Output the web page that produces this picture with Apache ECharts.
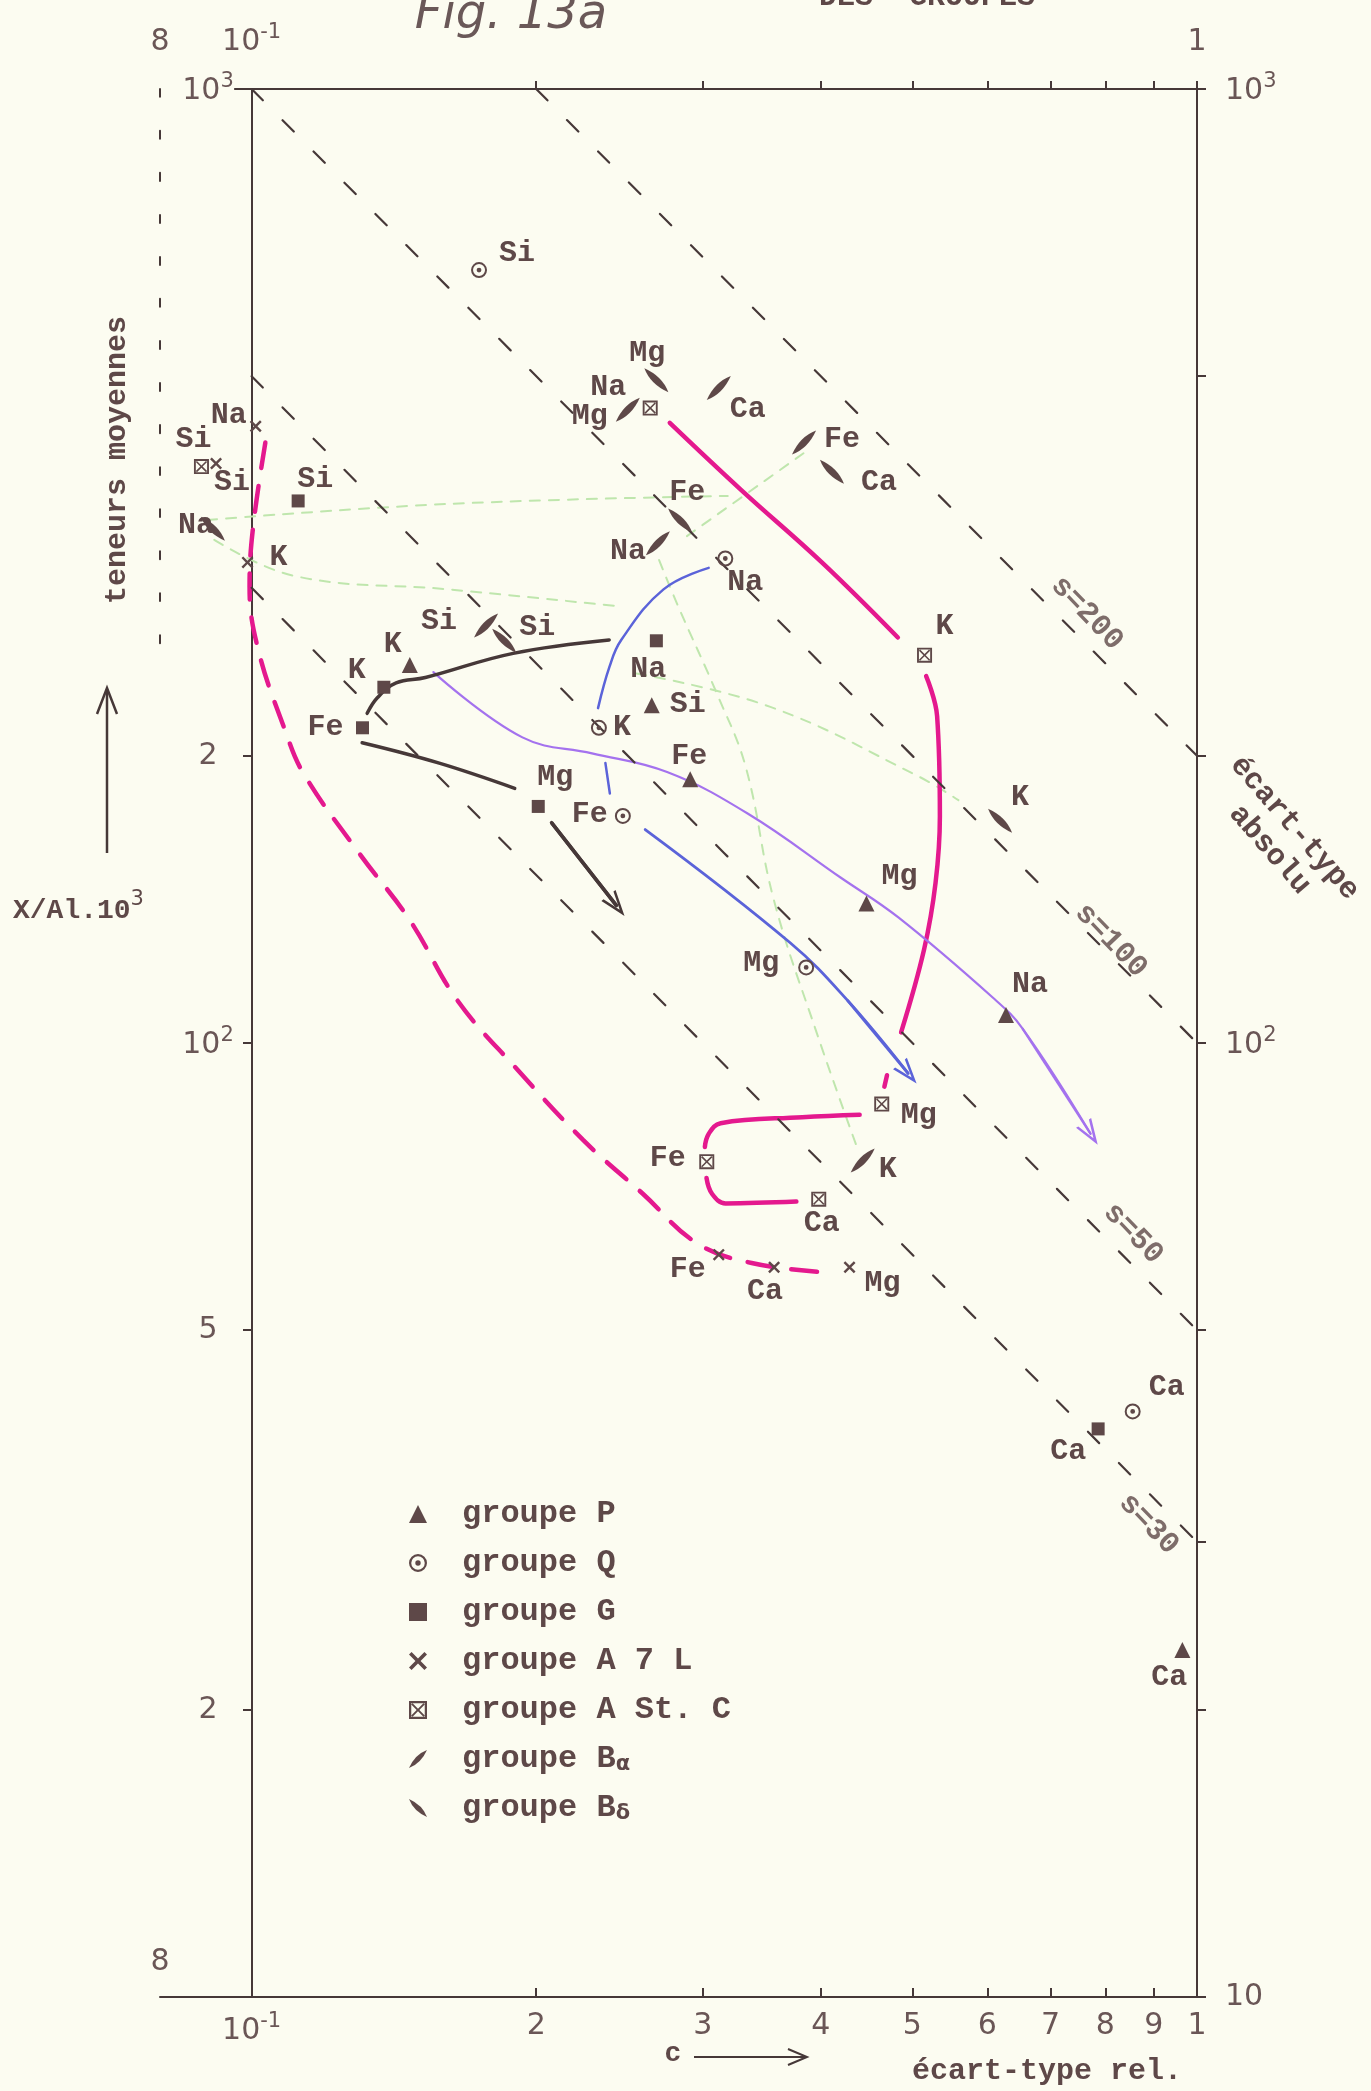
<!DOCTYPE html>
<html>
<head>
<meta charset="utf-8">
<title>Fig. 13a</title>
<script src="https://cdn.jsdelivr.net/npm/echarts@6/dist/echarts.min.js"></script>
<style>
    html, body { margin: 0; padding: 0; background: #fcfcf1; }
    #chart1 { width: 1371px; height: 2091px; }
</style>
</head>
<body>
<div id="chart1"></div>
<script>
// elements, same order in every group
var elements = ['Si', 'Na', 'K', 'Fe', 'Mg', 'Ca'];
var groups = ['P', 'Q', 'G', 'A 7 L', 'A St. C', 'Bα', 'Bδ'];

// écart-type relatif (x) and teneur moyenne X/Al.10^3 (y), in the order of elements
var relP = [0.265, 0.628, 0.147, 0.291, 0.447, 0.965];
var meanP = [226, 107, 249, 189, 140, 23.1];
var relQ = [0.174, 0.317, 0.233, 0.247, 0.386, 0.855];
var meanQ = [646, 322, 214, 173, 120, 41.1];
var relG = [0.112, 0.268, 0.138, 0.131, 0.201, 0.786];
var meanG = [370, 264, 236, 214, 177, 39.4];
var relA7L = [0.0917, 0.101, 0.099, 0.312, 0.429, 0.357];
var meanA7L = [405, 443, 319, 60.0, 58.2, 58.2];
var relASC = [0.0885, 0.264, 0.515, 0.303, 0.464, 0.398];
var meanASC = [402, 463, 255, 75.1, 86.3, 68.6];
var relBa = [0.177, 0.269, 0.443, 0.384, 0.250, 0.312];
var meanBa = [274, 334, 75.3, 426, 461, 486];
var relBd = [0.185, 0.091, 0.619, 0.284, 0.268, 0.411];
var meanBd = [264, 346, 171, 353, 495, 397];

// hand drawn trend curves (x, y)
var ascLine1X = [0.2769, 0.3298, 0.4013, 0.4826];
var ascLine1Y = [446.7, 379.6, 318.8, 266.1];
var ascLine2X = [0.517, 0.531, 0.5346, 0.529, 0.5144, 0.4864];
var ascLine2Y = [242.4, 220.1, 172.9, 147.2, 125.3, 102.6];
var ascLine3X = [0.470, 0.467];
var ascLine3Y = [92.5, 90.0];
var ascUpX = [0.4397, 0.3823, 0.3134, 0.3044, 0.3016];
var ascUpY = [84.1, 83.6, 82.4, 80.3, 77.8];
var ascLowX = [0.3028, 0.3069, 0.3172, 0.3769];
var ascLowY = [72.2, 69.5, 67.9, 68.2];
var a7lLineX = [0.1034, 0.1003, 0.0995, 0.1016, 0.1084, 0.1135, 0.130, 0.147, 0.165, 0.191, 0.2243, 0.2593, 0.2957, 0.338, 0.403];
var a7lLineY = [426, 345.6, 300.8, 258.6, 213.2, 191.6, 158, 134.5, 110.9, 93.8, 79.1, 69.5, 61.7, 58.8, 57.5];
var qUpX = [0.2325, 0.2391, 0.246, 0.2727, 0.3044];
var qUpY = [224.4, 248, 264.5, 298.9, 314.8];
var qShortX = [0.2367, 0.2393];
var qShortY = [196.6, 182.6];
var qArrowX = [0.2608, 0.3715, 0.4267, 0.495];
var qArrowY = [167.4, 127.3, 110.9, 92.9];
var pLineX = [0.1557, 0.1934, 0.2291, 0.2751, 0.3347, 0.4197, 0.4832, 0.608, 0.6536, 0.7718];
var pLineY = [244.8, 209.1, 201.2, 192.3, 174, 149.1, 135.4, 111.6, 103.6, 80.3];
var gUpX = [0.1325, 0.1359, 0.1422, 0.1527, 0.1891, 0.2389];
var gUpY = [221.6, 230.2, 238.5, 241.6, 256.1, 264.5];
var gLowX = [0.1309, 0.1576, 0.1898];
var gLowY = [206.4, 196.6, 184.9];
var gArrowX = [0.2076, 0.2432];
var gArrowY = [170.2, 139.3];
var bLine1X = [0.0898, 0.1611, 0.3189];
var bLine1Y = [353.4, 367.3, 374.5];
var bLine2X = [0.0913, 0.111, 0.1615, 0.2466];
var bLine2Y = [336.8, 308.7, 298.9, 286.7];
var bLine3X = [0.3835, 0.285];
var bLine3Y = [415.1, 336.8];
var bLine4X = [0.2698, 0.2827, 0.3105, 0.3331, 0.3568, 0.3963, 0.4368];
var bLine4Y = [320.8, 286.7, 232.5, 194.8, 141.2, 102.3, 77.8];
var bLine5X = [0.2553, 0.3537, 0.507, 0.5593];
var bLine5Y = [244, 225.1, 190.4, 179.7];

// lines of constant écart-type absolu s
var sNames = ['s=200', 's=100', 's=50', 's=30'];
var sLineX = [[0.2, 1], [0.1, 1], [0.1, 1], [0.1, 1]];
var sLineY = [[1000, 200], [1000, 100], [500, 50], [300, 30]];
var sLabelX = [0.765, 0.811, 0.856, 0.889];
var sLabelY = [282, 128, 63.1, 31.3];

// axis ticks
var xTicks = [0.1, 0.2, 0.3, 0.4, 0.5, 0.6, 0.7, 0.8, 0.9, 1];
var xTopLabels = [0.08, 0.1, 1];
var yLeftTicks = [20, 50, 100, 200, 1000];
var yRightTicks = [10, 20, 30, 50, 100, 200, 500, 1000];
var yRightLabels = [10, 100, 1000];
var guideX = [0.08, 0.08];
var guideY = [1000, 255];
var topFrameX = [0.096, 1];
var topFrameY = [1000, 1000];

// label placement (pixels, label centre from the symbol)
var shiftP = [[36, -1], [24, -31], [-17, -21], [-1, -23], [33, -27], [-13, 27]];
var shiftQ = [[38, -17], [20, 24], [23, 0], [-33, -1], [-45, -4], [34, -24]];
var shiftG = [[17, -21], [-8, 29], [-27, -17], [-37, 0], [17, -29], [-30, 23]];
var shiftA7L = [[16, 19], [-27, -11], [31, -5], [-31, 15], [33, 16], [-9, 24]];
var shiftASC = [[-8, -27], [-42, -21], [20, -29], [-39, -3], [37, 11], [3, 24]];
var shiftBa = [[-47, -4], [-30, 8], [25, 9], [38, -3], [-38, 7], [29, 21]];
var shiftBd = [[33, -13], [-17, -3], [20, -23], [7, -28], [-9, -27], [47, 11]];

var ink = '#5e4848';
var lineInk = '#463838';
var numInk = '#6a5656';
var mono = 'Liberation Mono';
var chevron = 'path://M0,0 L-10,20 L-7,20 L0,6 L7,20 L10,20 Z';
var symRing = 'path://M0,-10 A10,10 0 1,1 0,10 A10,10 0 1,1 0,-10 Z M0,-7.5 A7.5,7.5 0 1,0 0,7.5 A7.5,7.5 0 1,0 0,-7.5 Z M0,-3 A3,3 0 1,1 0,3 A3,3 0 1,1 0,-3 Z';
var symCross = 'path://M-7,-5 L-5,-7 L0,-2 L5,-7 L7,-5 L2,0 L7,5 L5,7 L0,2 L-5,7 L-7,5 L-2,0 Z';
var symBoxX = 'path://M-10,-10 L10,-10 L10,10 L-10,10 Z M-7.5,-7.5 L-7.5,7.5 L7.5,7.5 L7.5,-7.5 Z M-7.5,-6 L-6,-7.5 L0,-1.5 L6,-7.5 L7.5,-6 L1.5,0 L7.5,6 L6,7.5 L0,1.5 L-6,7.5 L-7.5,6 L-1.5,0 Z';
var symLeafA = 'path://M-12,12 Q-4,-6 12,-12 Q4,6 -12,12 Z';
var symLeafD = 'path://M-12,-12 Q6,-4 12,12 Q-6,4 -12,-12 Z';

// rich styles for powers of ten
var numRich = {
    n: { fontFamily: 'DejaVu Sans', fontSize: 30, color: numInk, verticalAlign: 'bottom' },
    s: { fontFamily: 'DejaVu Sans', fontSize: 21, color: numInk, verticalAlign: 'top', padding: [0, 0, 14, 0] }
};

function pairs(xs, ys) {
    return xs.map(function (x, i) {
        return [x, ys[i]];
    });
}

function groupSeries(name, xs, ys, shifts, symbol, size) {
    var data = [];
    for (var i = 0; i < elements.length; i++) {
        data.push({
            name: elements[i],
            value: [xs[i], ys[i]],
            label: { offset: shifts[i] }
        });
    }
    return {
        name: name,
        type: 'scatter',
        symbol: symbol,
        symbolSize: size,
        z: 6,
        itemStyle: { color: ink, opacity: 1 },
        label: {
            show: true,
            position: 'inside',
            formatter: '{b}',
            fontFamily: mono,
            fontSize: 30,
            fontWeight: 'bold',
            color: ink,
            textBorderWidth: 0
        },
        data: data
    };
}

function curve(xs, ys, color, width, type, arrow) {
    var s = {
        type: 'line',
        data: pairs(xs, ys),
        smooth: 0.4,
        symbol: 'none',
        z: 3,
        silent: true,
        lineStyle: { color: color, width: width, type: type, cap: 'round' }
    };
    if (arrow) {
        var n = xs.length;
        s.markLine = {
            silent: true,
            symbol: ['none', chevron],
            symbolSize: [18, 26],
            label: { show: false },
            lineStyle: { color: color, width: width, type: 'solid' },
            data: [[{ coord: [xs[n - 2], ys[n - 2]] }, { coord: [xs[n - 1], ys[n - 1]] }]]
        };
    }
    return s;
}

function drawChart1() {
    var dom1 = document.getElementById('chart1');
    var myChart1 = echarts.init(dom1);
    var magenta = '#e4198e';
    var blue = '#5b63d9';
    var purple = '#a472ee';
    var green = '#bfe6ad';

    var series = [
        groupSeries('P', relP, meanP, shiftP, 'triangle', 16),
        groupSeries('Q', relQ, meanQ, shiftQ, symRing, 16),
        groupSeries('G', relG, meanG, shiftG, 'rect', 13),
        groupSeries('A 7 L', relA7L, meanA7L, shiftA7L, symCross, 12),
        groupSeries('A St. C', relASC, meanASC, shiftASC, symBoxX, 15),
        groupSeries('Bα', relBa, meanBa, shiftBa, symLeafA, 24),
        groupSeries('Bδ', relBd, meanBd, shiftBd, symLeafD, 24),

        curve(bLine1X, bLine1Y, green, 2, [10, 9]),
        curve(bLine2X, bLine2Y, green, 2, [10, 9]),
        curve(bLine3X, bLine3Y, green, 2, [10, 9]),
        curve(bLine4X, bLine4Y, green, 2, [10, 9]),
        curve(bLine5X, bLine5Y, green, 2, [10, 9]),

        curve(ascLine1X, ascLine1Y, magenta, 4.5, 'solid'),
        curve(ascLine2X, ascLine2Y, magenta, 4.5, 'solid'),
        curve(ascLine3X, ascLine3Y, magenta, 4.5, 'solid'),
        curve(ascUpX, ascUpY, magenta, 4.5, 'solid'),
        curve(ascLowX, ascLowY, magenta, 4.5, 'solid'),
        curve(a7lLineX, a7lLineY, magenta, 4.5, [26, 18]),
        curve(qUpX, qUpY, blue, 2.5, 'solid'),
        curve(qShortX, qShortY, blue, 2.5, 'solid'),
        curve(qArrowX, qArrowY, blue, 2.8, 'solid', true),
        curve(pLineX, pLineY, purple, 2.2, 'solid', true),
        curve(gUpX, gUpY, lineInk, 3.5, 'solid'),
        curve(gLowX, gLowY, lineInk, 3.5, 'solid'),
        curve(gArrowX, gArrowY, lineInk, 3.5, 'solid', true),

        curve(guideX, guideY, lineInk, 2, [8, 34]),
        curve(topFrameX, topFrameY, lineInk, 2, 'solid')
    ];

    for (var k = 0; k < sNames.length; k++) {
        series.push(curve(sLineX[k], sLineY[k], lineInk, 2.2, [16, 28]));
    }
    series.push({
        type: 'scatter',
        symbolSize: 0,
        silent: true,
        z: 5,
        label: {
            show: true,
            position: 'inside',
            formatter: '{b}',
            rotate: -46,
            fontFamily: mono,
            fontSize: 30,
            fontWeight: 'bold',
            color: ink,
            textBorderWidth: 0
        },
        data: sNames.map(function (n, i) {
            return { name: n, value: [sLabelX[i], sLabelY[i]] };
        })
    });

    var numFont = { fontFamily: 'DejaVu Sans', fontSize: 30, color: numInk, rich: numRich };

    option = null;
    option = {
        backgroundColor: '#fcfcf1',
        animation: false,
        legend: {
            data: groups,
            orient: 'vertical',
            left: 404,
            top: 1493,
            itemWidth: 18,
            itemHeight: 18,
            itemGap: 17,
            selectedMode: false,
            formatter: function (name) {
                if (name === 'Bα') return 'groupe B{sub|α}';
                if (name === 'Bδ') return 'groupe B{sub|δ}';
                return 'groupe ' + name;
            },
            textStyle: {
                fontFamily: mono,
                fontSize: 32,
                fontWeight: 'bold',
                color: ink,
                padding: [0, 0, 0, 30],
                rich: {
                    sub: {
                        fontFamily: 'DejaVu Sans',
                        fontSize: 21,
                        color: ink,
                        verticalAlign: 'bottom',
                        padding: [10, 0, 0, 0]
                    }
                }
            }
        },
        grid: {
            left: 160,
            right: 174,
            top: 89,
            bottom: 94
        },
        xAxis: [{
            type: 'log',
            logBase: 10,
            min: 0.08,
            max: 1,
            position: 'bottom',
            axisLine: { show: true, lineStyle: { color: lineInk, width: 2 } },
            axisTick: { show: true, inside: true, length: 9, customValues: xTicks, lineStyle: { color: lineInk, width: 2 } },
            axisLabel: Object.assign({
                margin: 14,
                customValues: xTicks,
                formatter: function (v) {
                    var k = Math.round(v * 10);
                    if (k === 1) return '{n|10}{s|-1}';
                    if (k === 10) return '1';
                    return String(k);
                }
            }, numFont),
            splitLine: { show: false }
        }, {
            type: 'log',
            logBase: 10,
            min: 0.08,
            max: 1,
            position: 'top',
            axisLine: { show: false },
            axisTick: { show: true, length: 8, customValues: xTicks.slice(1), lineStyle: { color: lineInk, width: 2 } },
            axisLabel: Object.assign({
                margin: 32,
                customValues: xTopLabels,
                formatter: function (v) {
                    if (v < 0.09) return '8';
                    if (v < 0.5) return '{n|10}{s|-1}';
                    return '1';
                }
            }, numFont),
            splitLine: { show: false }
        }, {
            type: 'log',
            logBase: 10,
            min: 0.08,
            max: 1,
            position: 'bottom',
            axisLine: { show: false },
            axisTick: { show: false },
            axisLabel: Object.assign({
                inside: true,
                margin: 20,
                customValues: [0.08],
                formatter: function () { return '8'; }
            }, numFont),
            splitLine: { show: false }
        }],
        yAxis: [{
            type: 'log',
            logBase: 10,
            min: 10,
            max: 1000,
            position: 'left',
            offset: -92,
            axisLine: { show: true, lineStyle: { color: lineInk, width: 2 } },
            axisTick: { show: true, length: 9, customValues: yLeftTicks, lineStyle: { color: lineInk, width: 2 } },
            axisLabel: Object.assign({
                margin: 44,
                align: 'center',
                customValues: yLeftTicks,
                formatter: function (v) {
                    if (v === 1000) return '{n|10}{s|3}';
                    if (v === 100) return '{n|10}{s|2}';
                    if (v === 200 || v === 20) return '2';
                    return '5';
                }
            }, numFont),
            splitLine: { show: false }
        }, {
            type: 'log',
            logBase: 10,
            min: 10,
            max: 1000,
            position: 'right',
            axisLine: { show: true, lineStyle: { color: lineInk, width: 2 } },
            axisTick: { show: true, length: 9, customValues: yRightTicks, lineStyle: { color: lineInk, width: 2 } },
            axisLabel: Object.assign({
                margin: 28,
                customValues: yRightLabels,
                formatter: function (v) {
                    if (v === 1000) return '{n|10}{s|3}';
                    if (v === 100) return '{n|10}{s|2}';
                    return '10';
                }
            }, numFont),
            splitLine: { show: false }
        }],
        graphic: [{
            type: 'text', x: 511, y: 16,
            style: { text: 'Fig. 13a', font: 'italic 48px "DejaVu Sans"', fill: '#6a5858', align: 'center', verticalAlign: 'middle' }
        }, {
            type: 'text', x: 927, y: -3,
            style: { text: 'DES  GROUPES', font: 'bold 30px "Liberation Mono"', fill: ink, align: 'center', verticalAlign: 'middle' }
        }, {
            type: 'text', x: 117, y: 460, rotation: Math.PI / 2,
            style: { text: 'teneurs moyennes', font: 'bold 30px "Liberation Mono"', fill: ink, align: 'center', verticalAlign: 'middle' }
        }, {
            type: 'line',
            shape: { x1: 107, y1: 853, x2: 107, y2: 690 },
            style: { stroke: lineInk, lineWidth: 2.5 }
        }, {
            type: 'polyline',
            shape: { points: [[97, 714], [107, 688], [117, 714]] },
            style: { stroke: lineInk, lineWidth: 2.5, fill: null }
        }, {
            type: 'text', x: 13, y: 907,
            style: {
                text: '{t|X/Al.10}{s|3}',
                align: 'left',
                verticalAlign: 'middle',
                rich: {
                    t: { fontFamily: mono, fontWeight: 'bold', fontSize: 28, fill: ink, verticalAlign: 'bottom' },
                    s: { fontFamily: 'DejaVu Sans', fontSize: 21, fill: ink, verticalAlign: 'top', padding: [0, 0, 14, 0] }
                }
            }
        }, {
            type: 'text', x: 673, y: 2054,
            style: { text: 'c', font: 'bold 28px "Liberation Mono"', fill: ink, align: 'center', verticalAlign: 'middle' }
        }, {
            type: 'line',
            shape: { x1: 694, y1: 2057, x2: 806, y2: 2057 },
            style: { stroke: lineInk, lineWidth: 2 }
        }, {
            type: 'polyline',
            shape: { points: [[788, 2049], [807, 2057], [788, 2065]] },
            style: { stroke: lineInk, lineWidth: 2, fill: null }
        }, {
            type: 'text', x: 1047, y: 2071,
            style: { text: 'écart-type rel.', font: 'bold 30px "Liberation Mono"', fill: ink, align: 'center', verticalAlign: 'middle' }
        }, {
            type: 'text', x: 1282, y: 839, rotation: -0.855,
            style: { text: 'écart-type\nabsolu', font: 'bold 30px "Liberation Mono"', lineHeight: 33, fill: ink, align: 'center', verticalAlign: 'middle' }
        }],
        series: series
    };
    if (option && typeof option === 'object') {
        myChart1.setOption(option, true);
        window.onresize = myChart1.resize;
    }
}

drawChart1();
</script>
</body>
</html>
